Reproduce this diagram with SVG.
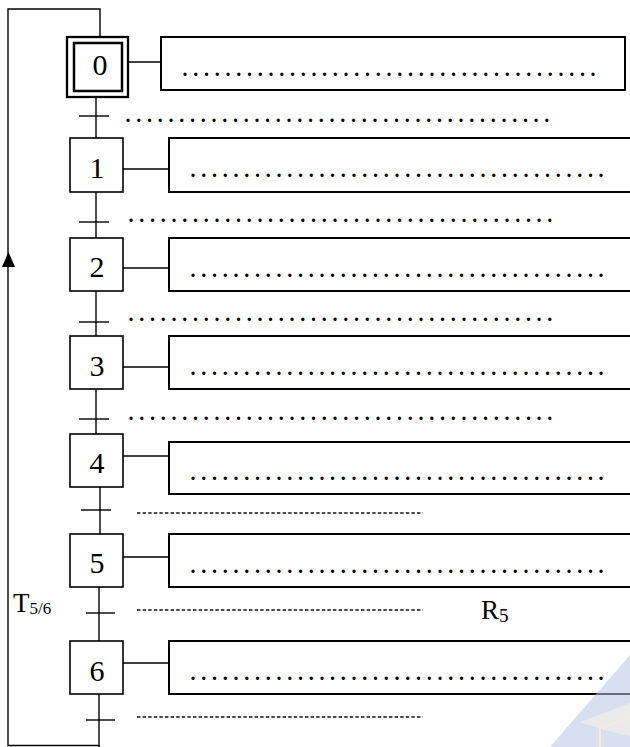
<svg xmlns="http://www.w3.org/2000/svg" width="630" height="747" viewBox="0 0 630 747">
<style>
  .step { fill: #fff; stroke: #000; stroke-width: 1.6; }
  .act { fill: #fff; stroke: #000; stroke-width: 2; }
  .ln { fill: none; stroke: #000; stroke-width: 1.4; }
  .tick { stroke: #000; stroke-width: 1.4; }
  .dash { stroke: #111; stroke-width: 1.3; stroke-dasharray: 3.4 2.2; }
  .num { font-family: "Liberation Serif", "Times New Roman", serif; font-size: 30px; text-anchor: middle; fill: #000; }
  .dots { font-family: "Liberation Serif", "Times New Roman", serif; font-size: 20px; font-weight: bold; letter-spacing: 5.74px; fill: #000; }
  .lbl { font-family: "Liberation Serif", "Times New Roman", serif; font-size: 27px; fill: #000; }
</style>
<rect width="630" height="747" fill="#fff"/>

<g id="connectors">
  <path class="ln" d="M99,747 V745.5 H8 V9 H100 V37"/>
  <polygon points="8.5,252 2,267 15,267" fill="#000"/>
  <line class="ln" x1="128" y1="62" x2="161" y2="62"/>
  <line class="ln" x1="123" y1="169" x2="169" y2="169"/>
  <line class="ln" x1="123" y1="268" x2="169" y2="268"/>
  <line class="ln" x1="123" y1="367" x2="169" y2="367"/>
  <line class="ln" x1="123" y1="456" x2="169" y2="456"/>
  <line class="ln" x1="123" y1="557" x2="169" y2="557"/>
  <line class="ln" x1="123" y1="663" x2="169" y2="663"/>
  <line class="ln" x1="96" y1="97" x2="96" y2="138"/>
  <line class="ln" x1="96" y1="192" x2="96" y2="238"/>
  <line class="ln" x1="96" y1="291" x2="96" y2="336"/>
  <line class="ln" x1="96" y1="389" x2="96" y2="434"/>
  <line class="ln" x1="100" y1="487" x2="100" y2="534"/>
  <line class="ln" x1="99" y1="587" x2="99" y2="641"/>
  <line class="ln" x1="99" y1="694" x2="99" y2="747"/>
</g>

<g id="transitions">
  <line class="tick" x1="79" y1="116" x2="109" y2="116"/>
  <line class="tick" x1="79" y1="222" x2="109" y2="222"/>
  <line class="tick" x1="79" y1="322" x2="109" y2="322"/>
  <line class="tick" x1="79" y1="419" x2="109" y2="419"/>
  <line class="tick" x1="81" y1="510" x2="111" y2="510"/>
  <line class="tick" x1="86" y1="613" x2="115" y2="613"/>
  <line class="tick" x1="86" y1="720" x2="115" y2="720"/>
  <text class="dots" x="125.5" y="122">........................................</text>
  <text class="dots" x="128.5" y="222">........................................</text>
  <text class="dots" x="128.5" y="321">........................................</text>
  <text class="dots" x="128.5" y="420">........................................</text>
  <line class="dash" x1="137" y1="513" x2="423" y2="513"/>
  <line class="dash" x1="137" y1="610" x2="423" y2="610"/>
  <line class="dash" x1="137" y1="717" x2="423" y2="717"/>
  <text class="lbl" x="13" y="612">T<tspan font-size="17" dy="2">5/6</tspan></text>
  <text class="lbl" x="481" y="619">R<tspan font-size="19" dy="3">5</tspan></text>
</g>

<g id="step0">
  <rect x="67" y="37" width="61" height="60" fill="#fff" stroke="#000" stroke-width="2.3"/>
  <rect x="74" y="43" width="48" height="48" fill="none" stroke="#000" stroke-width="2.5"/>
  <text class="num" x="100" y="75">0</text>
</g>
<g id="action0">
  <rect class="act" x="161" y="37" width="464" height="53"/>
  <text class="dots" x="182.5" y="76">.......................................</text>
</g>

<g id="step1"><rect class="step" x="70" y="138" width="53" height="54"/><text class="num" x="97" y="178">1</text></g>
<g id="action1"><rect class="act" x="169" y="138" width="470" height="54"/><text class="dots" x="190.5" y="177">.......................................</text></g>

<g id="step2"><rect class="step" x="70" y="238" width="53" height="53"/><text class="num" x="97" y="277">2</text></g>
<g id="action2"><rect class="act" x="169" y="238" width="470" height="53"/><text class="dots" x="190.5" y="277">.......................................</text></g>

<g id="step3"><rect class="step" x="70" y="336" width="53" height="53"/><text class="num" x="97" y="376">3</text></g>
<g id="action3"><rect class="act" x="169" y="336" width="470" height="53"/><text class="dots" x="190.5" y="375">.......................................</text></g>

<g id="step4"><rect class="step" x="70" y="434" width="53" height="53"/><text class="num" x="97" y="473">4</text></g>
<g id="action4"><rect class="act" x="169" y="442" width="470" height="52"/><text class="dots" x="190.5" y="480">.......................................</text></g>

<g id="step5"><rect class="step" x="70" y="534" width="53" height="53"/><text class="num" x="97" y="573">5</text></g>
<g id="action5"><rect class="act" x="169" y="534" width="470" height="53"/><text class="dots" x="190.5" y="573">.......................................</text></g>

<g id="step6"><rect class="step" x="70" y="641" width="53" height="53"/><text class="num" x="97" y="681">6</text></g>
<g id="action6"><rect class="act" x="169" y="641" width="470" height="53"/><text class="dots" x="190.5" y="680">.......................................</text></g>

<g id="watermark" opacity="0.55">
  <polygon points="550,747 630,655 630,747" fill="#b8c6e6"/>
  <polygon points="580,722 630,703 630,736 600,729" fill="#d9d9d9"/>
  <line x1="600" y1="729" x2="630" y2="716" stroke="#f3e3a0" stroke-width="1"/>
  <line x1="600" y1="729" x2="600" y2="747" stroke="#f3e3a0" stroke-width="2"/>
</g>
</svg>
